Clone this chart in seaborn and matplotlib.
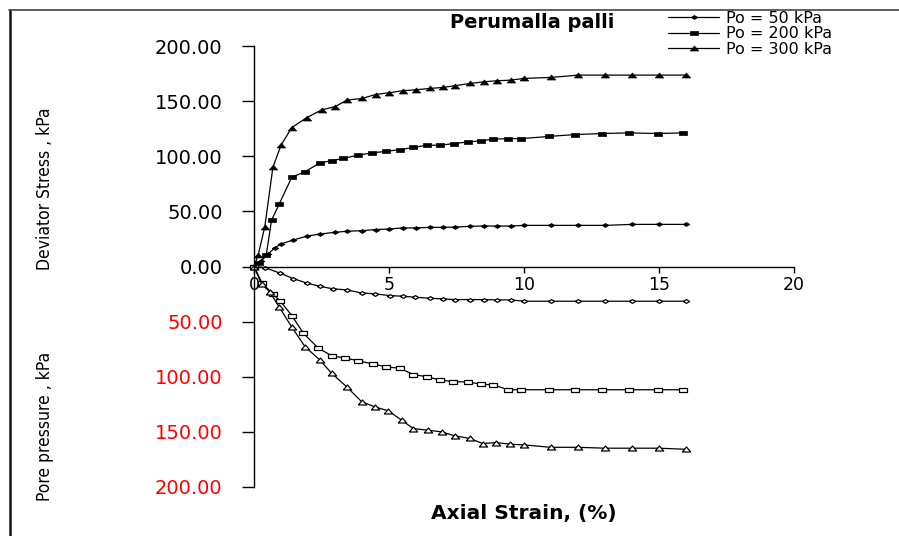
import matplotlib
matplotlib.use("Agg")
import matplotlib.pyplot as plt
import matplotlib.font_manager as fm
import seaborn as sns
import numpy as np
from matplotlib.path import Path
from matplotlib.lines import Line2D

# ---------------- data ----------------
strain_dev_50 = [0, 0.25, 0.5, 0.78, 1.0, 1.45, 1.95, 2.45, 3.0, 3.45, 4.0, 4.5, 5.0, 5.5, 6.0,
                 6.5, 7.0, 7.45, 8.0, 8.5, 9.0, 9.5, 10.0, 11.0, 12.0, 13.0, 14.0, 15.0, 16.0]
dev_50 = [0, 5, 11, 17, 20.5, 24, 27.5, 29.5, 31, 32, 32.5, 33.5, 34, 35, 35,
          35.5, 35.5, 35.7, 36.5, 36.7, 36.7, 36.7, 37.3, 37.3, 37.3, 37.3, 38.2, 38.2, 38.2]

strain_dev_200 = [0, 0.2, 0.45, 0.65, 0.94, 1.4, 1.89, 2.44, 2.88, 3.3, 3.86, 4.36, 4.9, 5.41, 5.9,
                  6.4, 6.89, 7.4, 7.94, 8.4, 8.86, 9.42, 9.9, 10.94, 11.9, 12.9, 13.9, 14.95, 15.9]
dev_200 = [0, 3, 10, 42, 57, 81, 86, 94, 96, 98, 101, 103, 104.5, 106, 108,
           110, 110, 111.5, 113, 114, 115.5, 116, 116, 118, 119.7, 120.6, 121.2, 120.6, 121.2]

strain_dev_300 = [0, 0.15, 0.4, 0.7, 1.0, 1.4, 1.95, 2.5, 3.0, 3.45, 4.0, 4.5, 5.0, 5.5, 6.0,
                  6.5, 7.0, 7.45, 8.0, 8.5, 9.0, 9.5, 10.0, 11.0, 12.0, 13.0, 14.0, 15.0, 16.0]
dev_300 = [0, 10, 36, 90, 110, 126, 135, 142, 145, 151, 152.4, 156, 157.6, 159.4, 160.3,
           161.5, 162.4, 164, 166, 167.5, 168.5, 169, 170.6, 171.5, 173.6, 173.6, 173.6, 173.6, 173.6]

strain_pp_50 = [0, 0.4, 0.96, 1.46, 1.95, 2.44, 2.94, 3.43, 3.99, 4.48, 5.04, 5.53, 5.96, 6.52,
                7.0, 7.45, 8.0, 8.5, 9.0, 9.5, 10.0, 11.0, 12.0, 13.0, 14.0, 15.0, 16.0]
pp_50 = [0, 1, 6, 11, 15, 18, 20.3, 21.2, 24, 24.8, 26.4, 27, 27.9, 28.8,
         29.4, 30, 30, 30, 30.3, 30.3, 31.5, 31.5, 31.5, 31.5, 31.5, 31.5, 31.5]

strain_pp_200 = [0, 0.3, 0.7, 0.96, 1.4, 1.83, 2.38, 2.88, 3.37, 3.86, 4.42, 4.9, 5.41, 5.9,
                 6.4, 6.89, 7.38, 7.94, 8.4, 8.86, 9.42, 9.9, 10.94, 11.9, 12.9, 13.9, 14.95, 15.9]
pp_200 = [0, 15, 25, 31, 44.5, 60.6, 74, 81, 83, 85.5, 88.5, 91, 92.4, 98,
          100, 103, 104.4, 104.8, 106.7, 107.4, 111.8, 111.8, 111.8, 111.8, 111.8, 111.8, 111.8, 111.8]

strain_pp_300 = [0, 0.28, 0.59, 0.94, 1.4, 1.89, 2.44, 2.88, 3.43, 3.99, 4.48, 4.98, 5.47, 5.9,
                 6.46, 6.95, 7.44, 8.0, 8.47, 8.97, 9.49, 9.99, 11.0, 12.0, 13.0, 14.0, 15.0, 16.0]
pp_300 = [0, 15.8, 23.3, 37, 55, 72.7, 84.8, 97, 109, 122.7, 127.3, 131, 139.4, 147,
          148.5, 150, 153.6, 156, 160.6, 159.7, 161.2, 161.8, 164, 164, 164.8, 164.8, 164.8, 165.8]

series_labels = ["Po = 50 kPa", "Po = 200 kPa", "Po = 300 kPa"]
x_ticks = [0, 5, 10, 15, 20]
y_ticks = [200, 150, 100, 50, 0, -50, -100, -150, -200]
y_tick_labels = ["200.00", "150.00", "100.00", "50.00", "0.00", "50.00", "100.00", "150.00", "200.00"]

# ---------------- style ----------------
sns.set_theme(style="white")
plt.rcParams["font.family"] = ["DejaVu Sans"]
plt.rcParams["text.color"] = "black"
plt.rcParams["axes.labelcolor"] = "black"
plt.rcParams["xtick.color"] = "black"
plt.rcParams["ytick.color"] = "black"

# pick a condensed family for the rotated axis titles if one is installed
cond_files = [f for f in fm.fontManager.ttflist
              if ("narrow" in f.fname.lower() or "condensed" in f.fname.lower())
              and "bold" not in f.fname.lower() and "oblique" not in f.fname.lower()
              and "italic" not in f.fname.lower()]
narrow_kw = dict(family=["Liberation Sans", "DejaVu Sans"], fontsize=11)
if cond_files:
    pref = sorted(cond_files, key=lambda f: (0 if "liberation" in f.fname.lower() else
                                             1 if "dejavusans" in f.fname.lower() else 2))
    narrow_kw = dict(fontproperties=fm.FontProperties(fname=pref[0].fname, size=12.5))

W, H = 899, 536
fig = plt.figure(figsize=(W / 100, H / 100), dpi=100)
ax = fig.add_axes([254 / W, 1 - 487 / H, (794 - 254) / W, (487 - 46) / H])

diamond = Path([(-1, 0), (0, 0.6), (1, 0), (0, -0.6), (-1, 0)])
rect = Path([(-1, -0.5), (1, -0.5), (1, 0.5), (-1, 0.5), (-1, -0.5)])
tri = Path([(-1, -0.6), (1, -0.6), (0, 0.6), (-1, -0.6)])

dev_sets = [(strain_dev_50, dev_50, diamond, 4.8), (strain_dev_200, dev_200, rect, 5.2),
            (strain_dev_300, dev_300, tri, 6.0)]
pp_sets = [(strain_pp_50, pp_50, diamond, 4.5), (strain_pp_200, pp_200, rect, 5.2),
           (strain_pp_300, pp_300, tri, 6.0)]

handles = []
for (xs, ys, mk, ms), lab in zip(dev_sets, series_labels):
    sns.lineplot(x=xs, y=ys, ax=ax, color="black", linewidth=0.9, marker=mk,
                 markersize=ms, markerfacecolor="black", markeredgecolor="black",
                 markeredgewidth=0.5, sort=False, clip_on=False)
    handles.append(ax.lines[-1])

for xs, ys, mk, ms in pp_sets:
    sns.lineplot(x=xs, y=[-v for v in ys], ax=ax, color="black", linewidth=0.9, marker=mk,
                 markersize=ms, markerfacecolor="white", markeredgecolor="black",
                 markeredgewidth=0.9, sort=False, clip_on=False)

ax.set_xlim(0, 20)
ax.set_ylim(-200, 200)
ax.spines["top"].set_visible(False)
ax.spines["right"].set_visible(False)
ax.spines["bottom"].set_position(("data", 0))
for s in ("left", "bottom"):
    ax.spines[s].set_color("black")
    ax.spines[s].set_linewidth(1.0)

ax.set_xticks(x_ticks)
ax.set_xticklabels([str(t) for t in x_ticks], fontsize=12.5)
ax.set_yticks(y_ticks)
ax.set_yticklabels(y_tick_labels, fontsize=14)
ax.tick_params(axis="y", direction="out", length=9, width=1, pad=13.5, left=True, colors="black")
ax.tick_params(axis="x", direction="out", length=4, width=1, pad=3, bottom=True, colors="black")
for t, lab in zip(y_ticks, ax.get_yticklabels()):
    lab.set_color("red" if t < 0 else "black")
ax.set_xlabel("")
ax.set_ylabel("")

# axis titles
fig.text(45 / W, 1 - 189 / H, "Deviator Stress , kPa", rotation=90, ha="center", va="center",
         color="black", **narrow_kw)
fig.text(45 / W, 1 - 426 / H, "Pore pressure , kPa", rotation=90, ha="center", va="center",
         color="black", **narrow_kw)
fig.text(524 / W, 1 - 513 / H, "Axial Strain, (%)", ha="center", va="center",
         fontsize=14.5, fontweight="bold", color="black")
fig.text(532 / W, 1 - 22 / H, "Perumalla palli", ha="center", va="center",
         fontsize=14, fontweight="bold", color="black")

leg = ax.legend(handles, series_labels, loc="upper left", bbox_to_anchor=(668 / W, 1 - 11 / H),
                bbox_transform=fig.transFigure, frameon=False, fontsize=11.5, handlelength=3.2,
                handletextpad=0.45, labelspacing=0.02, borderpad=0, borderaxespad=0, numpoints=1)
for txt in leg.get_texts():
    txt.set_color("black")

# outer frame lines
fig.add_artist(Line2D([9.5 / W, 9.5 / W], [0, 1 - 10 / H], transform=fig.transFigure,
                      color="#111111", linewidth=1.8))
fig.add_artist(Line2D([9 / W, 1], [1 - 10 / H, 1 - 10 / H], transform=fig.transFigure,
                      color="#444444", linewidth=1.2))

fig.savefig("out.png", dpi=100)
